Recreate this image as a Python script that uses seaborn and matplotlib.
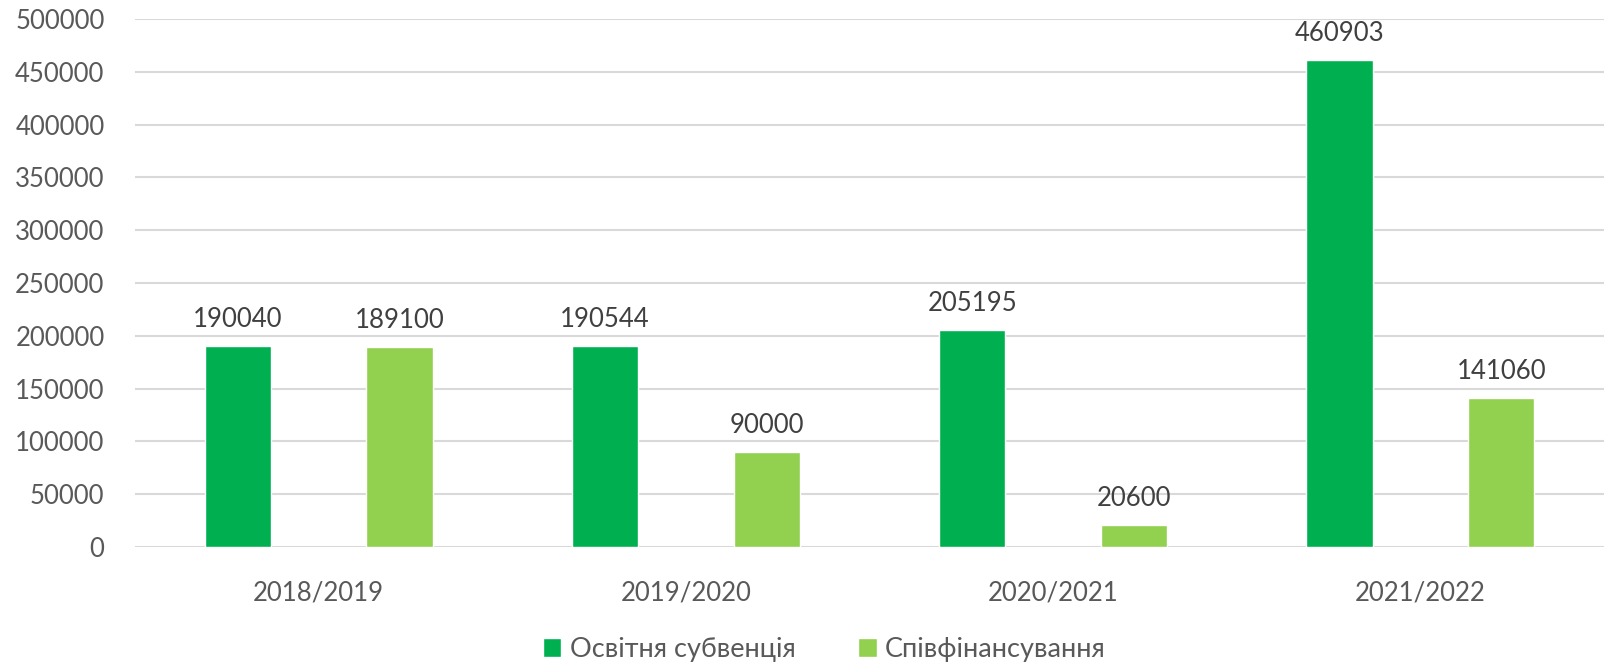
import pandas as pd
import seaborn as sns
import matplotlib.pyplot as plt
from matplotlib.ticker import MultipleLocator

years = ['2018/2019', '2019/2020', '2020/2021', '2021/2022']
subvention = [190040, 190544, 205195, 460903]
cofinancing = [189100, 90000, 20600, 141060]
series_names = ['Освітня субвенція', 'Співфінансування']
palette = ['#00B050', '#92D050']

df = pd.DataFrame({
    'year': years * 2,
    'value': subvention + cofinancing,
    'series': [series_names[0]] * 4 + [series_names[1]] * 4,
})

sns.set_style('white')
plt.rcParams['font.family'] = ['Lato', 'DejaVu Sans']

fig = plt.figure(figsize=(16.04, 6.66), dpi=100)
ax = fig.add_axes([0.0842, 0.1787, 0.9158, 0.7928])

sns.barplot(
    data=df, x='year', y='value', hue='series',
    palette=palette, width=0.88, gap=0.59,
    saturation=1, ax=ax, legend=True,
)

for cont in ax.containers:
    ax.bar_label(cont, fmt='%d', padding=10, fontsize=18.5, color='#404040')

ax.set_ylim(0, 500000)
ax.set_xlim(-0.5, 3.5)
ax.yaxis.set_major_locator(MultipleLocator(50000))
ax.grid(axis='y', color='#D9D9D9', linewidth=1.5)
ax.set_axisbelow(True)
for s in ax.spines.values():
    s.set_visible(False)
ax.tick_params(axis='y', length=0, pad=22, labelsize=18.5, labelcolor='#595959')
ax.tick_params(axis='x', length=0, pad=24, labelsize=18.5, labelcolor='#595959')
ax.set_xlabel('')
ax.set_ylabel('')

ax.legend(
    loc='center', bbox_to_anchor=(0.469, -0.195), ncol=2, frameon=False,
    fontsize=19.5, labelcolor='#595959', handlelength=0.7, handleheight=0.7,
    handletextpad=0.3, columnspacing=2.3, borderpad=0.1,
)

fig.savefig('out.png', dpi=100)
